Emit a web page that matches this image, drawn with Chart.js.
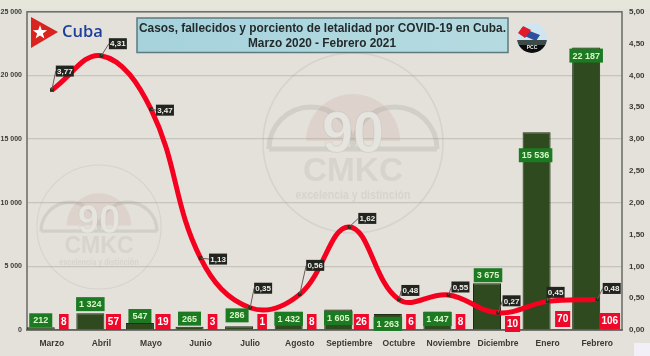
<!DOCTYPE html>
<html>
<head>
<meta charset="utf-8">
<script src="https://cdn.jsdelivr.net/npm/chart.js@4/dist/chart.umd.min.js"></script>
<style>
  html, body { margin: 0; padding: 0; background: #e3e1da; }
  canvas { display: block; }
</style>
</head>
<body>
<canvas id="myChart" width="650" height="356"></canvas>
<script>
const meses = ['Marzo', 'Abril', 'Mayo', 'Junio', 'Julio', 'Agosto', 'Septiembre', 'Octubre', 'Noviembre', 'Diciembre', 'Enero', 'Febrero'];
const casos = [212, 1324, 547, 265, 286, 1432, 1605, 1263, 1447, 3675, 15536, 22187];
const fallecidos = [8, 57, 19, 3, 1, 8, 26, 6, 8, 10, 70, 106];
const letalidad = [3.77, 4.31, 3.47, 1.13, 0.35, 0.56, 1.62, 0.48, 0.55, 0.27, 0.45, 0.48];

const titulo = ['Casos, fallecidos y porciento de letalidad por COVID-19 en Cuba.', 'Marzo 2020 - Febrero 2021'];

// label nudges, in px, from the point or bar they belong to
const nudgeLetalidad = [[13, -19], [16.5, -12], [14, 1], [17.5, 1], [13, -19.5], [15.5, -29], [18, -8.5], [11.5, -9], [12, -8], [13.5, -12], [8, -9], [14.5, -11]];
const nudgeCasos = [[0, -7], [0, -9], [0, -7], [0, -8], [-2, -11], [0, 7], [0, 8.5], [0, 10], [0, 7.5], [1, -8], [-1, 23], [0, 8]];
const nudgeFallecidos = [[1, -8], [1, -8], [1, -8], [1, -8], [1, -8], [1, -8], [1, -8], [1, -8], [1, -8], [3.5, -6], [4, -11], [1.5, -9]];

function miles(v) {
    return String(v).replace(/\B(?=(\d{3})+$)/g, ' ');
}

function coma(v) {
    return v.toFixed(2).replace('.', ',');
}

function caja(c, cx, cy, w, h, fondo, color, font, texto) {
    c.fillStyle = fondo;
    c.fillRect(cx - w / 2, cy - h / 2, w, h);
    c.fillStyle = color;
    c.font = font;
    c.textAlign = 'center';
    c.textBaseline = 'middle';
    c.fillText(texto, cx, cy + 0.5, w - 1);
}

function marcaAgua(c, cx, cy, s) {
    c.save();
    c.translate(cx, cy);
    c.scale(s, s);
    c.strokeStyle = 'rgba(150,148,140,0.18)';
    c.lineWidth = 1.5;
    c.beginPath();
    c.arc(0, 0, 90, 0, Math.PI * 2);
    c.stroke();
    c.fillStyle = 'rgba(200,165,155,0.22)';
    c.beginPath();
    c.arc(0, -2, 47, Math.PI, 0);
    c.fill();
    c.strokeStyle = 'rgba(140,138,130,0.2)';
    c.lineWidth = 5;
    c.beginPath();
    c.moveTo(-84, 6);
    c.arc(-42, 6, 42, Math.PI, 0);
    c.moveTo(0, 6);
    c.arc(42, 6, 42, Math.PI, 0);
    c.moveTo(-84, 6);
    c.lineTo(84, 6);
    c.stroke();
    c.textAlign = 'center';
    c.textBaseline = 'middle';
    c.font = 'bold 58px "Liberation Sans"';
    c.fillStyle = '#e6e4de';
    c.fillText('90', 0, -7, 62);
    c.lineWidth = 1;
    c.strokeStyle = 'rgba(140,138,130,0.16)';
    c.strokeText('90', 0, -7, 62);
    c.font = 'bold 34px "Liberation Sans"';
    c.fillStyle = 'rgba(140,138,130,0.14)';
    c.fillText('CMKC', 0, 29, 100);
    c.font = 'bold 13px "Liberation Sans"';
    c.fillText('excelencia y distinción', 0, 52, 115);
    c.restore();
}

function bandera(c) {
    c.fillStyle = '#d8231f';
    c.beginPath();
    c.moveTo(31, 17);
    c.lineTo(58, 32);
    c.lineTo(31, 48);
    c.closePath();
    c.fill();
    c.fillStyle = '#ffffff';
    c.beginPath();
    for (let i = 0; i < 10; i++) {
        const r = i % 2 ? 3 : 7.5;
        const a = -Math.PI / 2 + i * Math.PI / 5;
        c.lineTo(40 + r * Math.cos(a), 32.5 + r * Math.sin(a));
    }
    c.closePath();
    c.fill();
    c.fillStyle = '#1c3f9e';
    c.font = '600 16.5px "Open Sans"';
    c.textAlign = 'left';
    c.textBaseline = 'middle';
    c.fillText('Cuba', 62, 32);
}

function logo(c) {
    c.save();
    c.beginPath();
    c.arc(532, 38, 15, 0, Math.PI * 2);
    c.clip();
    c.fillStyle = '#cfe6f2';
    c.fillRect(517, 23, 30, 30);
    c.fillStyle = '#2f4f9a';
    c.beginPath();
    c.moveTo(522, 28);
    c.lineTo(540, 35);
    c.lineTo(536, 41);
    c.lineTo(520, 34);
    c.fill();
    c.fillStyle = '#e01b2a';
    c.beginPath();
    c.moveTo(523, 26);
    c.lineTo(531, 30);
    c.lineTo(525, 38);
    c.lineTo(518, 33);
    c.fill();
    c.fillStyle = '#3c4a48';
    c.fillRect(517, 40, 30, 5);
    c.fillStyle = '#0c0c0c';
    c.fillRect(517, 45, 30, 8);
    c.fillStyle = '#eeeeee';
    c.font = 'bold 5px "Liberation Sans"';
    c.textAlign = 'center';
    c.textBaseline = 'middle';
    c.fillText('PCC', 532, 48);
    c.restore();
}

// the reference curve is a spreadsheet "smoothed line", so set the
// control points from neighbouring points instead of Chart.js' own
const suavizado = {
    id: 'suavizado',
    afterDatasetsUpdate(chart) {
        const p = chart.getDatasetMeta(0).data;
        p.forEach((pt, i) => {
            const prev = p[Math.max(i - 1, 0)];
            const next = p[Math.min(i + 1, p.length - 1)];
            const dx = (next.x - prev.x) / 6;
            const dy = (next.y - prev.y) / 6;
            pt.cp1x = pt.x - dx;
            pt.cp1y = pt.y - dy;
            pt.cp2x = pt.x + dx;
            pt.cp2y = pt.y + dy;
        });
    }
};

const fondo = {
    id: 'fondo',
    beforeDraw(chart) {
        const c = chart.ctx;
        c.save();
        c.fillStyle = '#e3e1da';
        c.fillRect(0, 0, chart.width, chart.height);
        c.fillStyle = '#e6e6da';
        c.fillRect(0, 0, chart.width, 9);
        c.fillStyle = '#f2f0f6';
        c.fillRect(634, 343, 16, 13);
        c.restore();
    },
    beforeDatasetsDraw(chart) {
        const c = chart.ctx;
        const a = chart.chartArea;
        c.save();
        marcaAgua(c, 353, 143, 1);
        marcaAgua(c, 99, 227, 0.69);
        c.strokeStyle = '#6a6a64';
        c.lineWidth = 1.5;
        c.strokeRect(a.left, a.top, a.right - a.left, a.bottom - a.top);
        c.restore();
    }
};

const rotulos = {
    id: 'rotulos',
    afterDatasetsDraw(chart) {
        const c = chart.ctx;
        const barrasCasos = chart.getDatasetMeta(1).data;
        const barrasFall = chart.getDatasetMeta(2).data;
        const puntos = chart.getDatasetMeta(0).data;
        const cero = chart.scales.y.getPixelForValue(0);
        c.save();

        casos.forEach((v, i) => {
            const b = barrasCasos[i];
            const t = miles(v);
            c.font = 'bold 9px "Liberation Sans"';
            const w = Math.max(23, c.measureText(t).width + 6);
            caja(c, b.x + nudgeCasos[i][0], b.y + nudgeCasos[i][1], w, 14, '#1c7a22', '#d8f5c8', 'bold 9px "Liberation Sans"', t);
        });

        fallecidos.forEach((v, i) => {
            const b = barrasFall[i];
            const t = String(v);
            c.font = 'bold 10px "Liberation Sans"';
            const w = c.measureText(t).width + 4;
            caja(c, b.x + nudgeFallecidos[i][0], cero + nudgeFallecidos[i][1], w, 16, '#f0082a', '#ffffff', 'bold 10px "Liberation Sans"', t);
        });

        letalidad.forEach((v, i) => {
            const p = puntos[i];
            const cx = p.x + nudgeLetalidad[i][0];
            const cy = p.y + nudgeLetalidad[i][1];
            // thin leader from the point to the nearest side of the label
            c.strokeStyle = '#6b5a5a';
            c.lineWidth = 1;
            c.beginPath();
            c.moveTo(p.x, p.y);
            c.lineTo(Math.max(p.x, cx - 9), cy);
            c.stroke();
            caja(c, cx, cy, 18, 11, '#22241f', '#f0f0ea', 'bold 8px "Liberation Sans"', coma(v));
        });

        const a = 137, b = 508;
        const g = c.createLinearGradient(a, 0, b, 0);
        g.addColorStop(0, '#a6d2dc');
        g.addColorStop(1, '#b5dbe0');
        c.fillStyle = g;
        c.fillRect(a, 18, b - a, 34.5);
        c.strokeStyle = '#5c7a80';
        c.lineWidth = 1.5;
        c.strokeRect(a, 18, b - a, 34.5);
        c.fillStyle = '#232a2c';
        c.font = 'bold 13.5px "Liberation Sans"';
        c.textAlign = 'center';
        c.textBaseline = 'middle';
        c.fillText(titulo[0], 322.5, 28, 367);
        c.fillText(titulo[1], 322, 43.5, 148);

        bandera(c);
        logo(c);
        c.restore();
    }
};

const ctx = document.getElementById('myChart').getContext('2d');

const myChart = new Chart(ctx, {
    data: {
        labels: meses,
        datasets: [{
            type: 'line',
            label: 'Letalidad',
            data: letalidad,
            yAxisID: 'y1',
            order: 0,
            borderColor: '#f5001e',
            borderWidth: 5,
            tension: 0.4,
            fill: false,
            clip: false,
            pointStyle: 'rect',
            pointRadius: 2.5,
            pointBackgroundColor: '#20301a',
            pointBorderColor: '#20301a',
            pointBorderWidth: 0
        }, {
            type: 'bar',
            label: 'Casos',
            data: casos,
            yAxisID: 'y',
            order: 1,
            backgroundColor: '#2f4a1e',
            borderColor: '#1e2c16',
            borderWidth: 1,
            categoryPercentage: 0.89,
            barPercentage: 1.27
        }, {
            type: 'bar',
            label: 'Fallecidos',
            data: fallecidos,
            yAxisID: 'y',
            order: 1,
            backgroundColor: '#f0082a',
            categoryPercentage: 0.89,
            barPercentage: 0.6
        }]
    },
    options: {
        responsive: false,
        animation: false,
        layout: { padding: { top: 10 } },
        scales: {
            x: {
                grid: { display: false },
                border: { color: '#55554f', width: 1.5 },
                afterFit(axis) { axis.height = 26; },
                ticks: {
                    color: '#3a3a36',
                    maxRotation: 0,
                    autoSkip: false,
                    padding: 1,
                    font: { family: 'Liberation Sans', size: 8.5, weight: 'bold' }
                }
            },
            y: {
                min: 0,
                max: 25000,
                afterFit(axis) { axis.width = 27; },
                grid: { color: '#c6c4bd', lineWidth: 1.2, drawTicks: false },
                border: { display: false },
                ticks: {
                    stepSize: 5000,
                    padding: 5,
                    color: '#3a3a36',
                    font: { family: 'Liberation Sans', size: 7, weight: 'bold' },
                    callback: v => miles(v)
                }
            },
            y1: {
                position: 'right',
                min: 0,
                max: 5,
                afterFit(axis) { axis.width = 28; },
                grid: { display: false, drawTicks: false },
                border: { display: false },
                ticks: {
                    stepSize: 0.5,
                    padding: 7,
                    color: '#3a3a36',
                    font: { family: 'Liberation Sans', size: 8, weight: 'bold' },
                    callback: v => coma(v)
                }
            }
        },
        plugins: {
            legend: { display: false },
            tooltip: { enabled: false }
        }
    },
    plugins: [suavizado, fondo, rotulos]
});
</script>
</body>
</html>
